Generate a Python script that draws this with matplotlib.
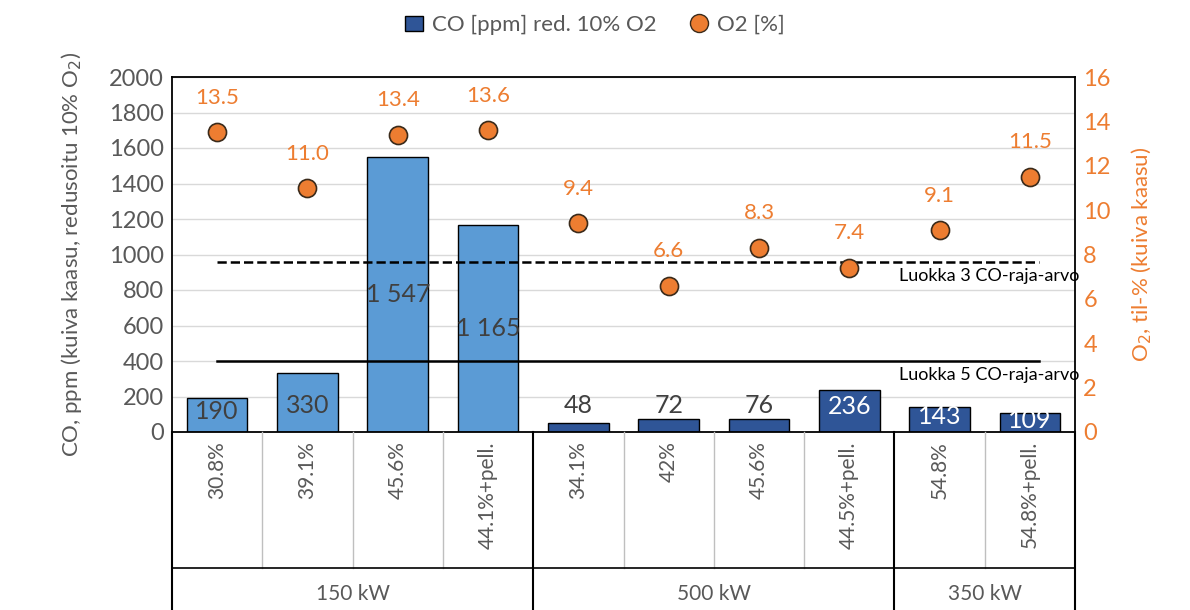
import matplotlib
matplotlib.use("Agg")
import matplotlib.pyplot as plt
from matplotlib.lines import Line2D
from matplotlib.patches import Patch

plt.rcParams['font.family'] = ['Lato', 'DejaVu Sans']

cats = ["30.8%", "39.1%", "45.6%", "44.1%+pell.", "34.1%", "42%", "45.6%", "44.5%+pell.", "54.8%", "54.8%+pell."]
groups = ["150 kW", "500 kW", "350 kW"]
group_sizes = [4, 4, 2]
co = [190, 330, 1547, 1165, 48, 72, 76, 236, 143, 109]
o2 = [13.5, 11.0, 13.4, 13.6, 9.4, 6.6, 8.3, 7.4, 9.1, 11.5]
co_labels = ["190", "330", "1 547", "1 165", "48", "72", "76", "236", "143", "109"]
limit3 = 960
limit5 = 400

light = "#5B9BD5"; dark = "#2F5597"; orange = "#ED7D31"; gray = "#595959"
colors = [light]*4 + [dark]*6

fig = plt.figure(figsize=(11.9, 6.1), dpi=100)
L, R, B, T = 172/1190, 1075/1190, (610-432)/610, (610-77)/610
ax = fig.add_axes([L, B, R-L, T-B])
x = list(range(len(cats)))
ax.bar(x, co, width=0.67, color=colors, edgecolor="black", linewidth=1, zorder=2)
ax.set_xlim(-0.5, 9.5)
ax.set_ylim(0, 2000)
ax.set_yticks(range(0, 2001, 200))
ax.yaxis.grid(True, color="#D9D9D9", lw=1, zorder=0)
ax.set_axisbelow(True)
ax.tick_params(axis='y', labelsize=17, labelcolor=gray, length=0, pad=6)
ax.set_xticks([])
for s in ["top", "right", "left", "bottom"]:
    ax.spines[s].set_color("black")
    ax.spines[s].set_linewidth(1.3)
for i, (v, lab) in enumerate(zip(co, co_labels)):
    y = v/2 if v > 1000 else (min(150, v*0.6) if v > 100 else 150)
    tc = "white" if (i >= 7) else "#404040"
    ax.text(i, y, lab, ha="center", va="center", fontsize=18, color=tc, zorder=4)

ax.plot([0, 9.1], [limit3]*2, ls="--", color="black", lw=1.8, zorder=3)
ax.plot([0, 9.1], [limit5]*2, ls="-", color="black", lw=1.8, zorder=3)
ax.text(9.55, 880, "Luokka 3 CO-raja-arvo", ha="right", va="center", fontsize=13)
ax.text(9.55, 320, "Luokka 5 CO-raja-arvo", ha="right", va="center", fontsize=13)

ax2 = ax.twinx()
ax2.set_ylim(0, 16)
ax2.set_yticks(range(0, 17, 2))
ax2.tick_params(axis='y', labelsize=17, labelcolor=orange, length=0, pad=6)
for s in ["top", "right", "left", "bottom"]:
    ax2.spines[s].set_visible(False)
ax2.plot(x, o2, ls="none", marker="o", ms=13, mfc=orange, mec="#3a2a1a", mew=1.2, zorder=5)
for i, v in enumerate(o2):
    ax2.text(i, v + 1.1, f"{v:.1f}", ha="center", va="bottom", fontsize=16, color=orange)

ax.set_ylabel("CO, ppm (kuiva kaasu, redusoitu 10% O$_2$)", fontsize=16, color=gray, labelpad=18)
ax2.set_ylabel("O$_2$, til-% (kuiva kaasu)", fontsize=16, color=orange, labelpad=14)

# category table below
slot = (R - L) / 10
yb = B; ymid = (610-568)/610
for i in range(1, 10):
    if i in (4, 8):
        continue
    fig.add_artist(Line2D([L+i*slot]*2, [ymid, yb], color="#BFBFBF", lw=1))
for xx in [L, L+4*slot, L+8*slot, R]:
    fig.add_artist(Line2D([xx]*2, [0, yb], color="black", lw=1.5))
fig.add_artist(Line2D([L, R], [ymid]*2, color="black", lw=1.2))
for i, c in enumerate(cats):
    fig.text(L+(i+0.5)*slot, yb - 0.015, c, rotation=90, ha="center", va="top", fontsize=15, color=gray)
start = 0
for g, n in zip(groups, group_sizes):
    fig.text(L+(start+n/2)*slot, (610-594)/610, g, ha="center", va="center", fontsize=15, color=gray)
    start += n

handles = [Patch(facecolor=dark, edgecolor="black", label="CO [ppm] red. 10% O2"),
           Line2D([], [], ls="none", marker="o", ms=13, mfc=orange, mec="#3a2a1a", label="O2 [%]")]
fig.legend(handles=handles, loc="center", bbox_to_anchor=(0.5, 1-25/610), ncol=2, frameon=False,
           fontsize=16, labelcolor=gray, handlelength=0.8, handletextpad=0.4, columnspacing=1.5)

fig.savefig("out.png", dpi=100)
